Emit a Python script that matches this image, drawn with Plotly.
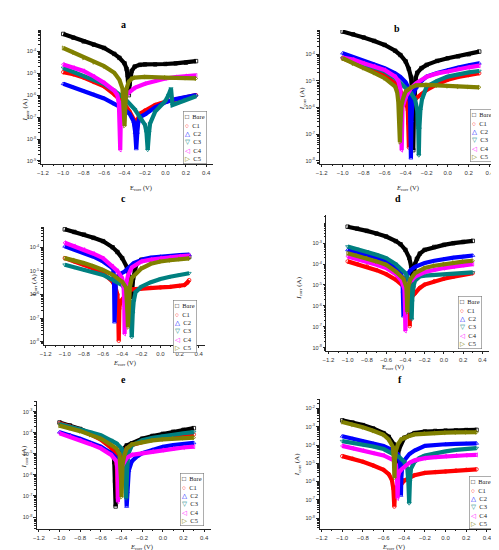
import math
import plotly.graph_objects as go

# Tafel curves: (E in V, log10 of I_corr in A)

# panel a
a_bare = [(-1.0, -3.21), (-0.9, -3.38), (-0.8, -3.55), (-0.7, -3.70), (-0.6, -3.85), (-0.5, -4.12),
          (-0.45, -4.3), (-0.4, -4.55), (-0.38, -4.8), (-0.37, -5.1), (-0.362, -5.7), (-0.358, -6.0),
          (-0.35, -5.5), (-0.34, -5.2), (-0.33, -4.9), (-0.3, -4.7), (-0.25, -4.62), (-0.2, -4.6),
          (-0.1, -4.6), (0.0, -4.58), (0.1, -4.55), (0.2, -4.52), (0.3, -4.45)]
a_c1 = [(-1.0, -4.95), (-0.9, -5.05), (-0.8, -5.2), (-0.7, -5.4), (-0.6, -5.6), (-0.5, -5.97),
        (-0.4, -6.4), (-0.35, -6.75), (-0.31, -7.1), (-0.295, -7.5), (-0.287, -7.9), (-0.28, -7.5),
        (-0.27, -7.1), (-0.25, -6.85), (-0.2, -6.7), (-0.1, -6.45), (0.0, -6.3), (0.1, -6.2),
        (0.2, -6.1), (0.3, -6.0)]
a_c2 = [(-1.0, -5.48), (-0.9, -5.65), (-0.8, -5.8), (-0.7, -5.97), (-0.6, -6.15), (-0.5, -6.4),
        (-0.4, -6.65), (-0.35, -6.85), (-0.31, -7.2), (-0.295, -7.7), (-0.285, -8.45), (-0.275, -7.7),
        (-0.265, -7.2), (-0.25, -7.0), (-0.2, -6.88), (-0.1, -6.55), (0.0, -6.33), (0.1, -6.18),
        (0.2, -6.1), (0.3, -6.0)]
a_c3 = [(-1.0, -4.76), (-0.9, -4.95), (-0.8, -5.14), (-0.7, -5.3), (-0.6, -5.5), (-0.5, -5.8),
        (-0.45, -5.97), (-0.4, -6.15), (-0.3, -6.65), (-0.24, -7.1), (-0.2, -7.35), (-0.185, -7.7),
        (-0.173, -8.5), (-0.16, -7.7), (-0.15, -7.3), (-0.1, -6.75), (-0.05, -6.5), (0.0, -6.27),
        (0.03, -6.0), (0.055, -5.7), (0.07, -6.45), (0.1, -6.4), (0.2, -6.2), (0.3, -6.05)]
a_c4 = [(-1.0, -4.6), (-0.9, -4.75), (-0.8, -4.9), (-0.7, -5.15), (-0.6, -5.44), (-0.5, -5.8),
        (-0.47, -6.0), (-0.455, -6.4), (-0.447, -7.2), (-0.442, -8.5), (-0.437, -7.2), (-0.428, -6.4),
        (-0.415, -6.15), (-0.4, -6.05), (-0.35, -5.85), (-0.3, -5.67), (-0.2, -5.48), (-0.1, -5.35),
        (0.0, -5.24), (0.1, -5.18), (0.2, -5.13), (0.3, -5.1)]
a_c5 = [(-1.0, -3.85), (-0.9, -4.05), (-0.8, -4.3), (-0.7, -4.5), (-0.6, -4.68), (-0.5, -4.98),
        (-0.45, -5.3), (-0.42, -5.7), (-0.41, -6.3), (-0.40, -7.4), (-0.39, -6.3), (-0.38, -5.7),
        (-0.36, -5.4), (-0.33, -5.25), (-0.3, -5.2), (-0.2, -5.17), (0.0, -5.2), (0.2, -5.22),
        (0.3, -5.24)]

# panel b
b_bare = [(-1.0, -3.15), (-0.9, -3.25), (-0.8, -3.37), (-0.7, -3.5), (-0.6, -3.65), (-0.5, -3.87),
          (-0.45, -4.03), (-0.4, -4.27), (-0.37, -4.55), (-0.35, -4.85), (-0.34, -5.3), (-0.333, -6.2),
          (-0.328, -7.6), (-0.322, -6.2), (-0.315, -5.3), (-0.305, -4.9), (-0.29, -4.7), (-0.25, -4.52),
          (-0.2, -4.4), (-0.1, -4.25), (0.0, -4.15), (0.1, -4.08), (0.2, -4.0), (0.3, -3.9)]
b_c1 = [(-1.0, -4.15), (-0.9, -4.3), (-0.8, -4.46), (-0.7, -4.6), (-0.6, -4.78), (-0.5, -5.09),
        (-0.45, -5.4), (-0.4, -5.7), (-0.38, -6.1), (-0.374, -6.6), (-0.369, -7.5), (-0.364, -6.6),
        (-0.355, -6.1), (-0.33, -5.8), (-0.3, -5.65), (-0.25, -5.5), (-0.2, -5.34), (-0.1, -5.12),
        (0.0, -4.96), (0.1, -4.85), (0.2, -4.78), (0.3, -4.71)]
b_c2 = [(-1.0, -3.96), (-0.9, -4.1), (-0.8, -4.25), (-0.7, -4.38), (-0.6, -4.52), (-0.5, -4.72),
        (-0.45, -4.85), (-0.4, -5.05), (-0.37, -5.3), (-0.36, -5.7), (-0.355, -6.5), (-0.35, -7.9),
        (-0.345, -6.5), (-0.335, -5.7), (-0.32, -5.4), (-0.3, -5.25), (-0.25, -5.0), (-0.2, -4.84),
        (-0.1, -4.7), (0.0, -4.59), (0.1, -4.5), (0.2, -4.42), (0.3, -4.34)]
b_c3 = [(-1.0, -4.15), (-0.9, -4.25), (-0.8, -4.38), (-0.7, -4.5), (-0.6, -4.65), (-0.5, -4.9),
        (-0.4, -5.27), (-0.35, -5.45), (-0.31, -5.7), (-0.29, -6.1), (-0.28, -6.8), (-0.275, -7.8),
        (-0.27, -6.8), (-0.26, -6.1), (-0.245, -5.7), (-0.2, -5.21), (-0.1, -5.0), (0.0, -4.84),
        (0.1, -4.75), (0.2, -4.68), (0.3, -4.63)]
b_c4 = [(-1.0, -4.12), (-0.9, -4.2), (-0.8, -4.34), (-0.7, -4.45), (-0.6, -4.59), (-0.5, -4.84),
        (-0.47, -5.0), (-0.45, -5.3), (-0.445, -6.0), (-0.438, -7.6), (-0.43, -6.0), (-0.42, -5.8),
        (-0.4, -5.6), (-0.35, -5.27), (-0.3, -5.09), (-0.2, -4.84), (-0.1, -4.72), (0.0, -4.65),
        (0.1, -4.55), (0.2, -4.49), (0.3, -4.43)]
b_c5 = [(-1.0, -4.15), (-0.9, -4.35), (-0.8, -4.52), (-0.7, -4.7), (-0.6, -4.9), (-0.5, -5.21),
        (-0.48, -5.45), (-0.47, -5.8), (-0.462, -6.5), (-0.455, -7.3), (-0.448, -6.5), (-0.44, -5.9),
        (-0.42, -5.6), (-0.4, -5.4), (-0.35, -5.25), (-0.3, -5.17), (-0.2, -5.15), (-0.1, -5.17),
        (0.0, -5.2), (0.1, -5.22), (0.2, -5.23), (0.3, -5.24)]

# panel c
c_bare = [(-1.0, -3.24), (-0.9, -3.35), (-0.8, -3.46), (-0.7, -3.6), (-0.6, -3.74), (-0.5, -4.0),
          (-0.45, -4.2), (-0.4, -4.46), (-0.35, -4.85), (-0.32, -5.3), (-0.305, -5.8), (-0.30, -6.2),
          (-0.295, -5.8), (-0.285, -5.3), (-0.27, -4.95), (-0.25, -4.7), (-0.2, -4.53), (-0.1, -4.48),
          (0.0, -4.46), (0.1, -4.44), (0.2, -4.42), (0.3, -4.41)]
c_c1 = [(-1.0, -4.46), (-0.9, -4.6), (-0.8, -4.74), (-0.7, -4.9), (-0.6, -5.1), (-0.5, -5.46),
        (-0.47, -5.7), (-0.45, -6.0), (-0.442, -6.6), (-0.436, -7.96), (-0.43, -6.6), (-0.42, -6.3),
        (-0.39, -6.17), (-0.34, -5.81), (-0.3, -5.78), (-0.2, -5.74), (-0.1, -5.72), (0.0, -5.7),
        (0.1, -5.68), (0.2, -5.64), (0.25, -5.6), (0.28, -5.5), (0.3, -5.39)]
c_c2 = [(-1.0, -3.96), (-0.9, -4.1), (-0.8, -4.24), (-0.7, -4.4), (-0.6, -4.6), (-0.5, -4.89),
        (-0.49, -5.0), (-0.485, -5.5), (-0.48, -7.17), (-0.475, -5.6), (-0.465, -5.3), (-0.43, -5.15),
        (-0.375, -5.03), (-0.28, -4.67), (-0.17, -4.5), (-0.1, -4.44), (0.0, -4.39), (0.1, -4.36),
        (0.2, -4.33), (0.3, -4.31)]
c_c3 = [(-1.0, -4.74), (-0.9, -4.85), (-0.8, -4.96), (-0.7, -5.06), (-0.6, -5.17), (-0.5, -5.38),
        (-0.4, -5.6), (-0.35, -5.9), (-0.32, -6.3), (-0.31, -6.8), (-0.30, -7.81), (-0.29, -6.8),
        (-0.28, -6.3), (-0.26, -5.9), (-0.2, -5.67), (-0.1, -5.48), (0.0, -5.34), (0.1, -5.25),
        (0.2, -5.17), (0.3, -5.1)]
c_c4 = [(-1.0, -3.81), (-0.9, -3.95), (-0.8, -4.1), (-0.7, -4.27), (-0.6, -4.46), (-0.5, -4.81),
        (-0.45, -5.0), (-0.4, -5.31), (-0.385, -5.7), (-0.378, -6.5), (-0.375, -7.67), (-0.37, -6.5),
        (-0.36, -5.6), (-0.34, -5.2), (-0.3, -4.85), (-0.2, -4.6), (-0.1, -4.52), (0.0, -4.46),
        (0.1, -4.42), (0.2, -4.38), (0.3, -4.35)]
c_c5 = [(-1.0, -4.46), (-0.9, -4.55), (-0.8, -4.67), (-0.7, -4.8), (-0.6, -4.96), (-0.5, -5.17),
        (-0.4, -5.46), (-0.36, -5.7), (-0.35, -6.2), (-0.345, -6.8), (-0.34, -7.39), (-0.335, -6.8),
        (-0.33, -6.2), (-0.32, -5.7), (-0.3, -5.3), (-0.2, -4.9), (-0.1, -4.7), (0.0, -4.6),
        (0.1, -4.55), (0.2, -4.5), (0.3, -4.47)]

# panel d
d_bare = [(-1.0, -2.21), (-0.9, -2.3), (-0.8, -2.41), (-0.7, -2.54), (-0.6, -2.68), (-0.5, -2.9),
          (-0.45, -3.05), (-0.4, -3.32), (-0.36, -3.7), (-0.34, -4.1), (-0.328, -4.6), (-0.32, -5.14),
          (-0.312, -4.6), (-0.3, -4.0), (-0.28, -3.75), (-0.25, -3.5), (-0.2, -3.32), (-0.1, -3.18),
          (0.0, -3.08), (0.1, -3.0), (0.2, -2.94), (0.3, -2.89)]
d_c1 = [(-1.0, -3.87), (-0.9, -4.0), (-0.8, -4.11), (-0.7, -4.29), (-0.6, -4.48), (-0.5, -4.75),
        (-0.4, -5.14), (-0.37, -5.4), (-0.36, -5.9), (-0.355, -6.97), (-0.35, -5.9), (-0.34, -5.6),
        (-0.3, -5.4), (-0.25, -5.14), (-0.2, -4.98), (-0.1, -4.82), (0.0, -4.7), (0.1, -4.6),
        (0.2, -4.5), (0.3, -4.43)]
d_c2 = [(-1.0, -3.32), (-0.9, -3.44), (-0.8, -3.56), (-0.7, -3.7), (-0.6, -3.87), (-0.5, -4.19),
        (-0.45, -4.38), (-0.43, -4.7), (-0.425, -5.3), (-0.42, -6.49), (-0.415, -5.3), (-0.41, -4.9),
        (-0.39, -4.6), (-0.35, -4.3), (-0.3, -4.13), (-0.2, -3.95), (-0.1, -3.84), (0.0, -3.75),
        (0.1, -3.69), (0.2, -3.64), (0.3, -3.59)]
d_c3 = [(-1.0, -3.16), (-0.9, -3.28), (-0.8, -3.4), (-0.7, -3.55), (-0.6, -3.71), (-0.5, -4.0),
        (-0.4, -4.43), (-0.37, -4.7), (-0.35, -5.1), (-0.34, -5.8), (-0.335, -6.65), (-0.33, -5.8),
        (-0.32, -5.1), (-0.3, -4.8), (-0.25, -4.59), (-0.2, -4.55), (-0.1, -4.52), (0.0, -4.51),
        (0.1, -4.48), (0.2, -4.44), (0.3, -4.4)]
d_c4 = [(-1.0, -3.63), (-0.9, -3.75), (-0.8, -3.87), (-0.7, -4.03), (-0.6, -4.19), (-0.5, -4.48),
        (-0.44, -4.8), (-0.41, -5.2), (-0.405, -5.9), (-0.40, -7.2), (-0.395, -5.9), (-0.39, -5.3),
        (-0.37, -4.95), (-0.33, -4.75), (-0.3, -4.6), (-0.2, -4.38), (-0.1, -4.27), (0.0, -4.19),
        (0.1, -4.12), (0.2, -4.05), (0.3, -4.0)]
d_c5 = [(-1.0, -3.48), (-0.9, -3.6), (-0.8, -3.71), (-0.7, -3.87), (-0.6, -4.03), (-0.5, -4.35),
        (-0.42, -4.7), (-0.39, -5.1), (-0.385, -5.6), (-0.38, -6.3), (-0.375, -5.6), (-0.37, -5.1),
        (-0.35, -4.75), (-0.3, -4.43), (-0.2, -4.19), (-0.1, -4.08), (0.0, -4.0), (0.1, -3.93),
        (0.2, -3.88), (0.3, -3.84)]

# panel e
e_bare = [(-1.0, -3.51), (-0.9, -3.65), (-0.8, -3.82), (-0.7, -4.03), (-0.6, -4.28), (-0.5, -4.66),
          (-0.48, -4.9), (-0.47, -5.4), (-0.462, -6.3), (-0.457, -7.5), (-0.452, -6.3), (-0.445, -5.6),
          (-0.43, -5.15), (-0.4, -4.86), (-0.35, -4.6), (-0.3, -4.5), (-0.2, -4.28), (-0.1, -4.15),
          (0.0, -4.05), (0.1, -3.95), (0.2, -3.86), (0.3, -3.78)]
e_c1 = [(-1.0, -3.55), (-0.9, -3.7), (-0.8, -3.87), (-0.7, -4.08), (-0.6, -4.32), (-0.5, -4.72),
        (-0.46, -5.0), (-0.445, -5.5), (-0.44, -6.2), (-0.435, -7.1), (-0.43, -6.2), (-0.42, -5.5),
        (-0.4, -5.1), (-0.35, -4.75), (-0.3, -4.58), (-0.2, -4.42), (-0.1, -4.3), (0.0, -4.22),
        (0.1, -4.15), (0.2, -4.1), (0.3, -4.08)]
e_c2 = [(-1.0, -3.97), (-0.9, -4.1), (-0.8, -4.28), (-0.7, -4.47), (-0.6, -4.66), (-0.5, -4.97),
        (-0.4, -5.43), (-0.37, -5.66), (-0.36, -6.2), (-0.355, -6.8), (-0.35, -7.5), (-0.345, -6.8),
        (-0.34, -6.2), (-0.33, -5.8), (-0.3, -5.35), (-0.25, -5.12), (-0.2, -4.97), (-0.1, -4.8),
        (0.0, -4.66), (0.1, -4.58), (0.2, -4.52), (0.3, -4.48)]
e_c3 = [(-1.0, -3.58), (-0.9, -3.7), (-0.8, -3.82), (-0.7, -3.97), (-0.6, -4.12), (-0.5, -4.35),
        (-0.45, -4.5), (-0.4, -4.74), (-0.375, -5.1), (-0.365, -5.7), (-0.355, -7.12), (-0.345, -5.7),
        (-0.335, -5.0), (-0.3, -4.6), (-0.2, -4.35), (-0.1, -4.24), (0.0, -4.15), (0.1, -4.08),
        (0.2, -4.02), (0.3, -3.97)]
e_c4 = [(-1.0, -4.02), (-0.9, -4.18), (-0.8, -4.35), (-0.7, -4.54), (-0.6, -4.74), (-0.5, -5.05),
        (-0.45, -5.35), (-0.44, -5.7), (-0.437, -6.3), (-0.435, -7.28), (-0.43, -6.3), (-0.42, -5.8),
        (-0.4, -5.6), (-0.35, -5.2), (-0.3, -5.05), (-0.2, -4.97), (-0.1, -4.89), (0.0, -4.82),
        (0.1, -4.75), (0.2, -4.7), (0.3, -4.66)]
e_c5 = [(-1.0, -3.66), (-0.9, -3.78), (-0.8, -3.92), (-0.7, -4.1), (-0.6, -4.28), (-0.5, -4.58),
        (-0.45, -4.75), (-0.42, -5.0), (-0.41, -5.5), (-0.405, -6.2), (-0.40, -7.05), (-0.395, -6.2),
        (-0.39, -5.5), (-0.37, -5.02), (-0.35, -4.75), (-0.3, -4.55), (-0.2, -4.43), (-0.1, -4.36),
        (0.0, -4.31), (0.1, -4.27), (0.2, -4.25), (0.3, -4.23)]

# panel f
f_bare = [(-1.0, -2.65), (-0.9, -2.77), (-0.8, -2.91), (-0.7, -3.1), (-0.6, -3.35), (-0.55, -3.55),
          (-0.5, -3.96), (-0.485, -4.4), (-0.478, -5.0), (-0.474, -5.53), (-0.47, -5.0), (-0.46, -4.5),
          (-0.45, -4.22), (-0.4, -3.61), (-0.35, -3.45), (-0.3, -3.35), (-0.2, -3.26), (-0.1, -3.23),
          (0.0, -3.21), (0.1, -3.2), (0.2, -3.18), (0.3, -3.17)]
f_c1 = [(-1.0, -4.61), (-0.9, -4.75), (-0.8, -4.92), (-0.7, -5.12), (-0.6, -5.36), (-0.55, -5.6),
        (-0.52, -5.9), (-0.505, -6.4), (-0.496, -7.37), (-0.488, -6.4), (-0.47, -6.3), (-0.45, -6.2),
        (-0.42, -6.1), (-0.4, -5.95), (-0.35, -5.8), (-0.3, -5.65), (-0.2, -5.53), (-0.1, -5.48),
        (0.0, -5.45), (0.1, -5.4), (0.2, -5.36), (0.3, -5.33)]
f_c2 = [(-1.0, -3.52), (-0.9, -3.65), (-0.8, -3.79), (-0.7, -3.92), (-0.6, -4.05), (-0.5, -4.31),
        (-0.46, -4.5), (-0.44, -5.0), (-0.436, -5.8), (-0.432, -6.76), (-0.428, -5.8), (-0.42, -5.2),
        (-0.4, -4.85), (-0.35, -4.49), (-0.3, -4.3), (-0.2, -4.05), (-0.1, -3.99), (0.0, -3.96),
        (0.1, -3.94), (0.2, -3.92), (0.3, -3.91)]
f_c3 = [(-1.0, -3.79), (-0.9, -3.88), (-0.8, -3.97), (-0.7, -4.08), (-0.6, -4.22), (-0.5, -4.48),
        (-0.45, -4.66), (-0.4, -4.92), (-0.37, -5.3), (-0.36, -6.0), (-0.352, -7.2), (-0.345, -6.0),
        (-0.335, -5.3), (-0.3, -4.92), (-0.25, -4.7), (-0.2, -4.57), (-0.1, -4.45), (0.0, -4.35),
        (0.1, -4.27), (0.2, -4.22), (0.3, -4.17)]
f_c4 = [(-1.0, -4.05), (-0.9, -4.18), (-0.8, -4.31), (-0.7, -4.44), (-0.6, -4.57), (-0.5, -4.84),
        (-0.48, -5.1), (-0.47, -5.7), (-0.464, -6.93), (-0.458, -5.7), (-0.45, -5.5), (-0.43, -5.35),
        (-0.4, -5.19), (-0.35, -4.97), (-0.3, -4.84), (-0.2, -4.72), (-0.1, -4.66), (0.0, -4.61),
        (0.1, -4.58), (0.2, -4.56), (0.3, -4.54)]
f_c5 = [(-1.0, -2.74), (-0.9, -2.88), (-0.8, -3.03), (-0.7, -3.22), (-0.6, -3.44), (-0.55, -3.7),
        (-0.51, -4.1), (-0.5, -4.8), (-0.495, -5.8), (-0.49, -4.8), (-0.48, -4.3), (-0.46, -3.95),
        (-0.43, -3.7), (-0.4, -3.6), (-0.35, -3.5), (-0.3, -3.42), (-0.2, -3.37), (-0.1, -3.34),
        (0.0, -3.32), (0.1, -3.31), (0.2, -3.3), (0.3, -3.3)]

samples = ["Bare", "C1", "C2", "C3", "C4", "C5"]
panel_letters = ["a", "b", "c", "d", "e", "f"]
panel_curves = [
    [a_bare, a_c1, a_c2, a_c3, a_c4, a_c5],
    [b_bare, b_c1, b_c2, b_c3, b_c4, b_c5],
    [c_bare, c_c1, c_c2, c_c3, c_c4, c_c5],
    [d_bare, d_c1, d_c2, d_c3, d_c4, d_c5],
    [e_bare, e_c1, e_c2, e_c3, e_c4, e_c5],
    [f_bare, f_c1, f_c2, f_c3, f_c4, f_c5],
]
# decades labelled on each y axis
panel_decades = [
    [-9, -8, -7, -6, -5, -4],
    [-8, -7, -6, -5, -4],
    [-8, -7, -6, -5, -4],
    [-8, -7, -6, -5, -4, -3],
    [-8, -7, -6, -5, -4, -3],
    [-8, -7, -6, -5, -4, -3, -2],
]

# ---- styling / layout (pixel positions in the 499x550 figure) ----
W, H = 499, 550
colors = ["#000000", "#ff0000", "#0000ff", "#008080", "#ff00ff", "#808000"]
symbols = ["square-open", "circle-open", "triangle-up-open", "triangle-down-open",
           "triangle-left-open", "triangle-right-open"]
glyphs = ["□", "○", "△", "▽", "◁", "▷"]

# x px left/right, y px top/bottom, y range
boxes = [
    dict(x0=29, x1=203, y0=22, y1=156, yr=[-9.14, -3.03]),
    dict(x0=310, x1=489, y0=22, y1=156, yr=[-8.12, -3.09]),
    dict(x0=32, x1=195, y0=219, y1=337, yr=[-8.14, -3.14]),
    dict(x0=317, x1=481, y0=207, y1=343, yr=[-8.16, -1.65]),
    dict(x0=25, x1=201, y0=393, y1=521, yr=[-8.57, -2.49]),
    dict(x0=310, x1=486, y0=391, y1=521, yr=[-8.6, -1.48]),
]
titles_px = [(108, 9), (393, 13), (108, 190), (394, 190), (108, 379), (395, 379)]
ytitle_px = [(7, 88), (292, 77), (16, 277), (289, 280), (6, 462), (287, 470)]
xtitle_px = [(117, 174), (412, 174), (100, 355), (397, 359), (117, 545), (398, 545)]
xtitle_italic = [False, True, True, False, True, True]
legend_px = [(172, 103), (462, 101), (162, 292), (450, 288), (169, 465), (461, 468)]

fig = go.Figure()
for k, curves in enumerate(panel_curves):
    ax = "" if k == 0 else str(k + 1)
    for j, pts in enumerate(curves):
        fig.add_trace(go.Scatter(
            x=[p[0] for p in pts], y=[p[1] for p in pts],
            mode="lines+markers", name=samples[j], showlegend=False,
            line=dict(color=colors[j], width=4.2),
            marker=dict(symbol=symbols[j], size=3.5, color=colors[j], line=dict(width=0.8, color=colors[j])),
            xaxis="x" + ax, yaxis="y" + ax,
        ))

layout = dict(width=W, height=H, margin=dict(l=0, r=0, t=0, b=0),
              paper_bgcolor="white", plot_bgcolor="white", showlegend=False)
annotations = []
for k, b in enumerate(boxes):
    ax = "" if k == 0 else str(k + 1)
    dec = panel_decades[k]
    minor_vals = [d + math.log10(m) for d in range(int(math.floor(b["yr"][0])), int(math.ceil(b["yr"][1])))
                  for m in range(2, 10)]
    layout["xaxis" + ax] = dict(
        domain=[b["x0"] / W, b["x1"] / W], anchor="y" + ax, range=[-1.22, 0.47],
        tick0=-1.2, dtick=0.2, tickformat=".1f", showgrid=False, zeroline=False,
        showline=True, linecolor="#222", linewidth=0.8, ticks="outside", ticklen=2.5,
        tickwidth=0.7, tickcolor="#222", tickfont=dict(size=6, family="Liberation Sans", color="#333"),
        minor=dict(ticks="outside", ticklen=1.5, dtick=0.1, tickcolor="#222", tickwidth=0.6),
    )
    layout["yaxis" + ax] = dict(
        domain=[1 - b["y1"] / H, 1 - b["y0"] / H], anchor="x" + ax, range=b["yr"],
        tickmode="array", tickvals=dec, ticktext=["10<sup>%d</sup>" % d for d in dec],
        showgrid=False, zeroline=False, showline=True, linecolor="#222", linewidth=0.8,
        ticks="outside", ticklen=2.5, tickwidth=0.7, tickcolor="#222",
        tickfont=dict(size=5.5, family="Liberation Sans", color="#333"),
        minor=dict(ticks="outside", ticklen=1.5, tickvals=minor_vals, tickcolor="#222", tickwidth=0.5),
    )
    tx, ty = titles_px[k]
    annotations.append(dict(x=tx / W, y=1 - ty / H, xref="paper", yref="paper", showarrow=False,
                            text="<b>%s</b>" % panel_letters[k],
                            font=dict(size=10, family="Liberation Serif", color="black")))
    yx, yy = ytitle_px[k]
    annotations.append(dict(x=yx / W, y=1 - yy / H, xref="paper", yref="paper", showarrow=False,
                            textangle=-90, text="<i>I</i><sub>corr</sub> (A)",
                            font=dict(size=7, family="Liberation Serif", color="#222")))
    xx, xy = xtitle_px[k]
    etxt = "<i>E</i>" if xtitle_italic[k] else "E"
    annotations.append(dict(x=xx / W, y=1 - xy / H, xref="paper", yref="paper", showarrow=False,
                            text=etxt + "<sub>corr</sub> (V)",
                            font=dict(size=6.5, family="Liberation Serif", color="#222")))
    lx, ly = legend_px[k]
    rows = ["<span style='color:%s'>%s</span>&nbsp;&nbsp;%s" % (colors[j], glyphs[j], samples[j])
            for j in range(6)]
    annotations.append(dict(x=lx / W, y=1 - ly / H, xref="paper", yref="paper", showarrow=False,
                            xanchor="left", yanchor="top", align="left", text="<br>".join(rows),
                            bordercolor="#777", borderwidth=0.6, borderpad=1.5, bgcolor="white",
                            font=dict(size=6.5, family="Liberation Serif, DejaVu Sans", color="#222")))

layout["annotations"] = annotations
fig.update_layout(**layout)
fig.write_html("out.html")
